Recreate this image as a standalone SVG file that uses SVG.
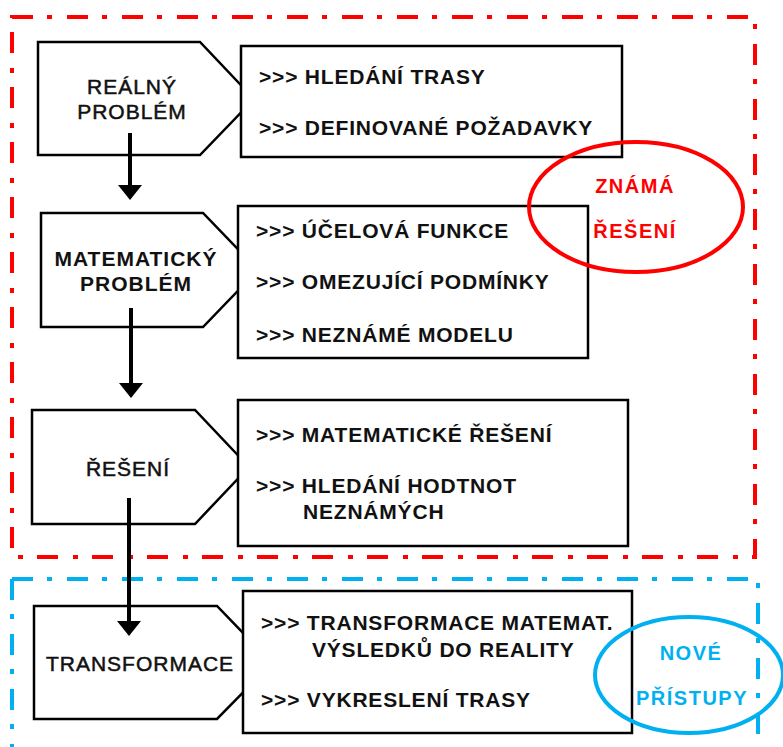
<svg xmlns="http://www.w3.org/2000/svg" width="783" height="747" viewBox="0 0 783 747">
  <defs>
    <style>
      .shape { fill: #fff; stroke: #000; stroke-width: 2.5; stroke-linejoin: miter; }
      .lbl { font-family: "Liberation Sans", Arial, sans-serif; font-size: 21px; fill: #111; text-anchor: middle; letter-spacing: 1px; stroke: #111; stroke-width: 0.5; }
      .lbl-b { font-weight: bold; stroke: none; }
      .item { font-family: "Liberation Sans", Arial, sans-serif; font-size: 21px; font-weight: bold; fill: #111; letter-spacing: 0.8px; }
      .frame-red { fill: none; stroke: #ff0000; stroke-width: 4; stroke-dasharray: 21 14 5 15; }
      .frame-blue { fill: none; stroke: #00b0f0; stroke-width: 4; stroke-dasharray: 21 14 5 15; }
      .oval-red { fill: none; stroke: #ff0000; stroke-width: 4; }
      .oval-blue { fill: none; stroke: #00b0f0; stroke-width: 4; }
      .tag { font-family: "Liberation Sans", Arial, sans-serif; font-size: 20px; font-weight: bold; text-anchor: middle; letter-spacing: 1.5px; }
      .conn { stroke: #000; stroke-width: 4; fill: none; }
    </style>
    <marker id="head" markerUnits="userSpaceOnUse" markerWidth="15" markerHeight="24" refX="0" refY="12" orient="auto" viewBox="0 0 15 24">
      <path d="M0,0 L15,12 L0,24 Z" fill="#000"/>
    </marker>
  </defs>

  <rect width="783" height="747" fill="#fff"/>

  <!-- dash-dot boundaries -->
  <g id="frames">
    <path class="frame-red" d="M12,17 H755 V557 H12 Z"/>
    <path class="frame-blue" d="M12,579 H758 V760 M12,579 V760"/>
  </g>

  <!-- step 1 -->
  <g id="n-real">
    <polygon class="shape" points="38,42 200,42 254,99 200,155 38,155"/>
    <text class="lbl" x="132" y="94">REÁLNÝ</text>
    <text class="lbl" x="132" y="119">PROBLÉM</text>
  </g>
  <g id="n-real-notes">
    <rect class="shape" x="241" y="46" width="381" height="111"/>
    <text class="item" x="259" y="84">&gt;&gt;&gt; HLEDÁNÍ TRASY</text>
    <text class="item" x="259" y="135">&gt;&gt;&gt; DEFINOVANÉ POŽADAVKY</text>
  </g>

  <!-- step 2 -->
  <g id="n-math">
    <polygon class="shape" points="41,213 203,213 258,270 203,327 41,327"/>
    <text class="lbl lbl-b" x="136" y="266">MATEMATICKÝ</text>
    <text class="lbl lbl-b" x="136" y="291">PROBLÉM</text>
  </g>
  <g id="n-math-notes">
    <rect class="shape" x="238" y="206" width="350" height="152"/>
    <text class="item" x="256" y="238">&gt;&gt;&gt; ÚČELOVÁ FUNKCE</text>
    <text class="item" x="256" y="289">&gt;&gt;&gt; OMEZUJÍCÍ PODMÍNKY</text>
    <text class="item" x="256" y="342">&gt;&gt;&gt; NEZNÁMÉ MODELU</text>
  </g>

  <!-- step 3 -->
  <g id="n-solution">
    <polygon class="shape" points="32,410 195,410 249,467 195,524 32,524"/>
    <text class="lbl" x="128" y="476">ŘEŠENÍ</text>
  </g>
  <g id="n-solution-notes">
    <rect class="shape" x="238" y="400" width="390" height="146"/>
    <text class="item" x="256" y="442">&gt;&gt;&gt; MATEMATICKÉ ŘEŠENÍ</text>
    <text class="item" x="256" y="493">&gt;&gt;&gt; HLEDÁNÍ HODTNOT</text>
    <text class="item" x="303" y="519">NEZNÁMÝCH</text>
  </g>

  <!-- step 4 -->
  <g id="n-transform">
    <polygon class="shape" points="34,606 217,606 272,663 217,719 34,719"/>
    <text class="lbl" x="140" y="671">TRANSFORMACE</text>
  </g>
  <g id="n-transform-notes">
    <rect class="shape" x="243" y="591" width="389" height="142"/>
    <text class="item" x="261" y="630">&gt;&gt;&gt; TRANSFORMACE MATEMAT.</text>
    <text class="item" x="312" y="657">VÝSLEDKŮ DO REALITY</text>
    <text class="item" x="261" y="707">&gt;&gt;&gt; VYKRESLENÍ TRASY</text>
  </g>

  <!-- annotations -->
  <g id="n-known">
    <ellipse class="oval-red" cx="636" cy="207" rx="107" ry="65"/>
    <text class="tag" x="635" y="193" fill="#ff0000">ZNÁMÁ</text>
    <text class="tag" x="635" y="238" fill="#ff0000">ŘEŠENÍ</text>
  </g>
  <g id="n-new">
    <ellipse class="oval-blue" cx="689" cy="675" rx="94" ry="58"/>
    <text class="tag" x="691" y="660" fill="#00b0f0">NOVÉ</text>
    <text class="tag" x="692" y="705" fill="#00b0f0">PŘÍSTUPY</text>
  </g>

  <!-- flow arrows -->
  <g id="connectors">
    <line class="conn" x1="130" y1="133" x2="130" y2="185" marker-end="url(#head)"/>
    <line class="conn" x1="131" y1="308" x2="131" y2="383" marker-end="url(#head)"/>
    <line class="conn" x1="129" y1="498" x2="129" y2="621" marker-end="url(#head)"/>
  </g>
</svg>
